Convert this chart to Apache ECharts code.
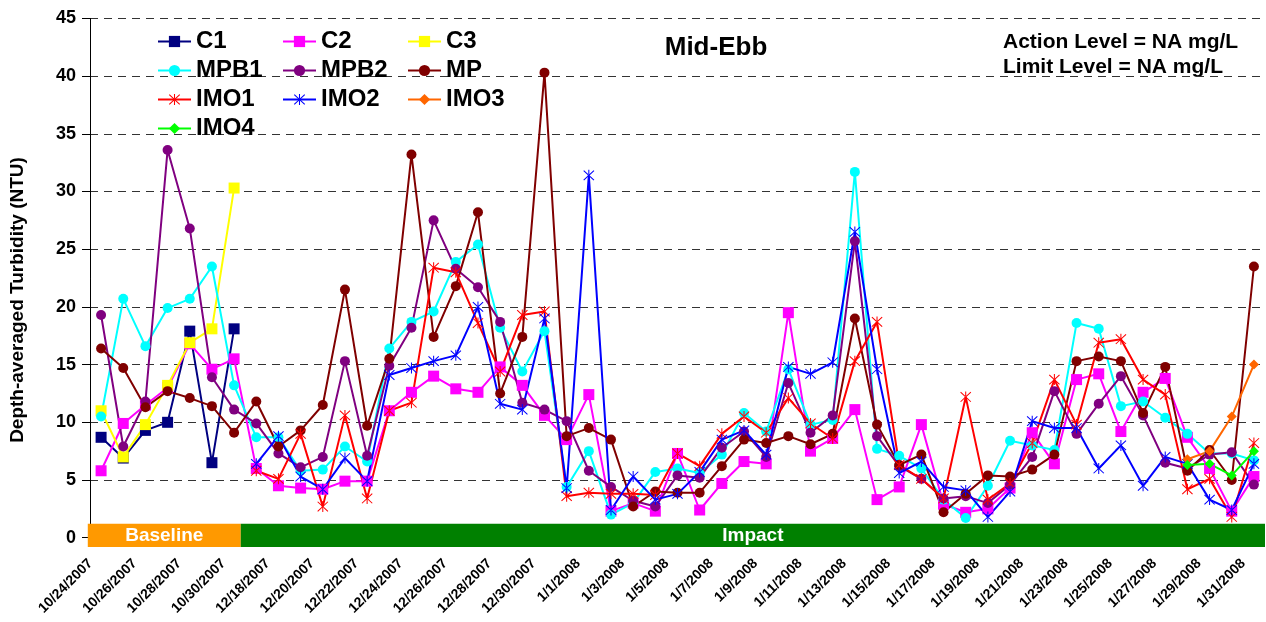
<!DOCTYPE html>
<html>
<head>
<meta charset="utf-8">
<script src="https://cdn.jsdelivr.net/npm/echarts@6/dist/echarts.min.js"></script>
<style>
  html, body { margin: 0; padding: 0; background: #fff; }
  #chart { width: 1266px; height: 622px; }
</style>
</head>
<body>
<div id="chart"></div>
<script>
// sampling dates (baseline in Oct 2007, impact Dec 2007 - Jan 2008)
const dates = [
  '10/24/2007', '10/25/2007', '10/26/2007', '10/27/2007', '10/28/2007', '10/29/2007', '10/30/2007',
  '12/17/2007', '12/18/2007', '12/19/2007', '12/20/2007', '12/21/2007', '12/22/2007', '12/23/2007',
  '12/24/2007', '12/25/2007', '12/26/2007', '12/27/2007', '12/28/2007', '12/29/2007', '12/30/2007',
  '12/31/2007', '1/1/2008', '1/2/2008', '1/3/2008', '1/4/2008', '1/5/2008', '1/6/2008', '1/7/2008',
  '1/8/2008', '1/9/2008', '1/10/2008', '1/11/2008', '1/12/2008', '1/13/2008', '1/14/2008', '1/15/2008',
  '1/16/2008', '1/17/2008', '1/18/2008', '1/19/2008', '1/20/2008', '1/21/2008', '1/22/2008', '1/23/2008',
  '1/24/2008', '1/25/2008', '1/26/2008', '1/27/2008', '1/28/2008', '1/29/2008', '1/30/2008', '1/31/2008'
];

// control stations, baseline only (first 7 dates)
const c1 = [8.7, 6.9, 9.3, 10.0, 17.9, 6.5, 18.1];
const c3 = [11.0, 7.0, 9.8, 13.2, 16.9, 18.1, 30.3];

const c2 = [
  5.8, 9.9, 11.5, 13.0, 16.8, 14.6, 15.5,
  6.0, 4.5, 4.3, 4.2, 4.9, 4.9, 11.0, 12.6, 14.0, 12.9, 12.6, 14.8, 13.2, 10.6, 8.5,
  12.4, 2.3, 3.0, 2.3, 7.3, 2.4, 4.7, 6.6, 6.4,
  19.5, 7.5, 8.6, 11.1, 3.3, 4.4, 9.8, 2.9, 2.2, 2.5, 4.3,
  9.1, 6.4, 13.7, 14.2, 9.2, 12.6, 13.8, 8.7, 6.0, 2.3, 5.3
];
const mpb1 = [
  10.5, 20.7, 16.6, 19.9, 20.7, 23.5, 13.2,
  8.7, 8.7, 5.8, 5.9, 7.9, 6.6, 16.4, 18.7, 19.6, 23.9, 25.4, 18.2, 14.4, 17.9, 4.4,
  7.5, 2.0, 3.0, 5.7, 6.0, 5.6, 7.2, 10.8, 9.2,
  14.6, 9.8, 10.2, 31.7, 7.7, 7.1, 6.0, 3.3, 1.7, 4.5, 8.4,
  8.0, 7.6, 18.6, 18.1, 11.4, 11.8, 10.4, 9.0, 7.3, 7.3, 6.7
];
const mpb2 = [
  19.3, 7.9, 11.8, 33.6, 26.8, 13.9, 11.1,
  9.9, 7.3, 6.1, 7.0, 15.3, 7.1, 14.9, 18.2, 27.5, 23.3, 21.7, 18.7, 11.7, 11.1, 10.1,
  5.8, 4.4, 3.2, 2.7, 5.4, 5.2, 7.8, 9.2, 7.0,
  13.4, 9.1, 10.6, 25.7, 8.8, 6.2, 5.1, 3.4, 3.6, 3.0, 4.6,
  7.0, 12.7, 9.0, 11.6, 14.0, 10.6, 6.5, 6.0, 7.2, 7.4, 4.6
];
const mp = [
  16.4, 14.7, 11.3, 12.7, 12.1, 11.4, 9.1,
  11.8, 7.9, 9.3, 11.5, 21.5, 9.7, 15.5, 33.2, 17.4, 21.8, 28.2, 12.5, 17.4, 40.3, 8.8,
  9.5, 8.5, 2.7, 4.0, 3.9, 3.9, 6.2, 8.5, 8.2,
  8.8, 8.1, 9.0, 19.0, 9.8, 6.3, 7.2, 2.2, 3.8, 5.4, 5.3,
  5.9, 7.2, 15.3, 15.7, 15.3, 10.8, 14.8, 5.8, 7.6, 5.0, 23.5
];
const imo1 = [
  null, null, null, null, null, null, null,
  5.8, 5.1, 9.0, 2.7, 10.6, 3.4, 11.0, 11.7, 23.4, 23.0, 18.6, 14.4, 19.3, 19.6, 3.6,
  3.9, 3.8, 3.8, 3.7, 7.3, 6.2, 9.0, 10.5, 9.1,
  12.1, 9.9, 8.6, 15.3, 18.7, 6.3, 5.1, 3.4, 12.2, 3.3, 4.7,
  8.2, 13.7, 9.8, 16.9, 17.2, 13.7, 12.4, 4.2, 5.1, 1.8, 8.2
];
const imo2 = [
  null, null, null, null, null, null, null,
  6.4, 8.8, 5.3, 4.2, 6.9, 4.9, 14.1, 14.7, 15.3, 15.8, 20.0, 11.6, 11.1, 19.0, 4.3,
  31.4, 2.4, 5.3, 3.3, 3.8, 5.7, 8.5, 9.3, 7.2,
  14.8, 14.2, 15.2, 26.5, 14.6, 5.6, 6.6, 4.4, 4.1, 1.8, 4.0,
  10.1, 9.5, 9.5, 6.0, 8.0, 4.5, 7.0, 6.4, 3.3, 2.4, 6.4
];
// IMO3 / IMO4 only the last four days
const imo3 = [
  null, null, null, null, null, null, null, null, null, null, null, null, null, null, null, null, null,
  null, null, null, null, null, null, null, null, null, null, null, null, null, null, null, null, null,
  null, null, null, null, null, null, null, null, null, null, null, null, null, null, null,
  6.8, 7.5, 10.5, 15.0
];
const imo4 = [
  null, null, null, null, null, null, null, null, null, null, null, null, null, null, null, null, null,
  null, null, null, null, null, null, null, null, null, null, null, null, null, null, null, null, null,
  null, null, null, null, null, null, null, null, null, null, null, null, null, null, null,
  6.3, 6.4, 5.4, 7.5
];

// period bands under the axis, in date-index units
const bandNames = ['Baseline', 'Impact'];
const bandStart = [-0.6, 6.3];
const bandEnd = [6.3, 52.5];

const FONT = 'Liberation Sans, Arial, sans-serif';
// excel style asterisk marker
const STAR = 'path://M-0.7,-8L0.7,-8L0.7,8L-0.7,8Z M-7.5,-6.5L6.5,7.5L7.5,6.5L-6.5,-7.5Z M6.5,-7.5L7.5,-6.5L-6.5,7.5L-7.5,6.5Z';

function lineSeries(name, data, color, symbol, size) {
  return {
    name: name,
    type: 'line',
    data: data,
    symbol: symbol,
    symbolSize: size,
    showSymbol: true,
    connectNulls: false,
    lineStyle: { color: color, width: 2 },
    itemStyle: { color: color },
    emphasis: { disabled: true },
    z: 3
  };
}

const chart = echarts.init(document.getElementById('chart'), null, { renderer: 'canvas' });

const option = {
  animation: false,
  textStyle: { fontFamily: FONT },
  grid: { left: 90, right: 1, top: 18.4, bottom: 84.3, containLabel: false },
  graphic: [
    {
      type: 'text', x: 716, y: 48,
      style: { text: 'Mid-Ebb', font: 'bold 26px ' + FONT, fill: '#000', align: 'center', verticalAlign: 'middle' }
    },
    {
      type: 'text', x: 1003, y: 42,
      style: { text: 'Action Level = NA mg/L', font: 'bold 21px ' + FONT, fill: '#000', verticalAlign: 'middle' }
    },
    {
      type: 'text', x: 1003, y: 67,
      style: { text: 'Limit Level = NA mg/L', font: 'bold 21px ' + FONT, fill: '#000', verticalAlign: 'middle' }
    },
    {
      type: 'text', x: 18, y: 300, rotation: Math.PI / 2,
      style: {
        text: 'Depth-averaged Turbidity (NTU)', font: 'bold 19px ' + FONT, fill: '#000',
        align: 'center', verticalAlign: 'middle'
      }
    }
  ],
  legend: {
    left: 152,
    top: 22,
    width: 380,
    itemGap: 0,
    itemWidth: 33,
    itemHeight: 14,
    textStyle: { fontFamily: FONT, fontSize: 24, fontWeight: 'bold', color: '#000', width: 86, lineHeight: 29 },
    data: ['C1', 'C2', 'C3', 'MPB1', 'MPB2', 'MP', 'IMO1', 'IMO2', 'IMO3', 'IMO4']
  },
  xAxis: [
    {
      type: 'category',
      data: dates,
      boundaryGap: true,
      axisLine: { show: false },
      axisTick: { show: false },
      axisLabel: {
        interval: 1,
        rotate: 45,
        margin: 13,
        padding: [0, 15, 0, 0],
        fontFamily: FONT,
        fontSize: 14,
        fontWeight: 'bold',
        color: '#000'
      },
      splitLine: { show: false }
    },
    {
      // hidden helper axis for the period bands
      type: 'value',
      min: -0.5,
      max: 52.5,
      show: false
    }
  ],
  yAxis: {
    type: 'value',
    min: 0,
    max: 45,
    interval: 5,
    axisLine: { show: true, onZero: false, lineStyle: { color: '#000', width: 1 } },
    axisTick: { show: true, length: 8, lineStyle: { color: '#000' } },
    axisLabel: { fontFamily: FONT, fontSize: 18, fontWeight: 'bold', color: '#000', margin: 14 },
    splitLine: { show: true, lineStyle: { color: '#333', type: [8, 6], width: 1 } }
  },
  series: [
    {
      type: 'custom',
      name: 'period',
      xAxisIndex: 1,
      silent: true,
      clip: false,
      z: 1,
      encode: { x: [0, 1], y: [2, 3] },
      data: bandStart.map((s, i) => [s, bandEnd[i], -0.8, 1.2, i]),
      renderItem: function (params, api) {
        const p0 = api.coord([api.value(0), api.value(3)]);
        const p1 = api.coord([api.value(1), api.value(2)]);
        const idx = api.value(4);
        return {
          type: 'group',
          children: [
            {
              type: 'rect',
              shape: { x: p0[0], y: p0[1], width: p1[0] - p0[0], height: p1[1] - p0[1] },
              style: { fill: idx === 0 ? '#ff9900' : '#008000' }
            },
            {
              type: 'text',
              style: {
                text: bandNames[idx],
                x: (p0[0] + p1[0]) / 2,
                y: (p0[1] + p1[1]) / 2,
                align: 'center',
                verticalAlign: 'middle',
                font: 'bold 19px ' + FONT,
                fill: '#fff'
              }
            }
          ]
        };
      }
    },
    lineSeries('C1', c1, '#000080', 'rect', 11),
    lineSeries('C2', c2, '#ff00ff', 'rect', 11),
    lineSeries('C3', c3, '#ffff00', 'rect', 11),
    lineSeries('MPB1', mpb1, '#00ffff', 'circle', 10),
    lineSeries('MPB2', mpb2, '#800080', 'circle', 10),
    lineSeries('MP', mp, '#800000', 'circle', 10),
    lineSeries('IMO1', imo1, '#ff0000', STAR, 11),
    lineSeries('IMO2', imo2, '#0000ff', STAR, 11),
    lineSeries('IMO3', imo3, '#ff6600', 'diamond', 10),
    lineSeries('IMO4', imo4, '#00ff00', 'diamond', 10)
  ]
};

chart.setOption(option);
</script>
</body>
</html>
